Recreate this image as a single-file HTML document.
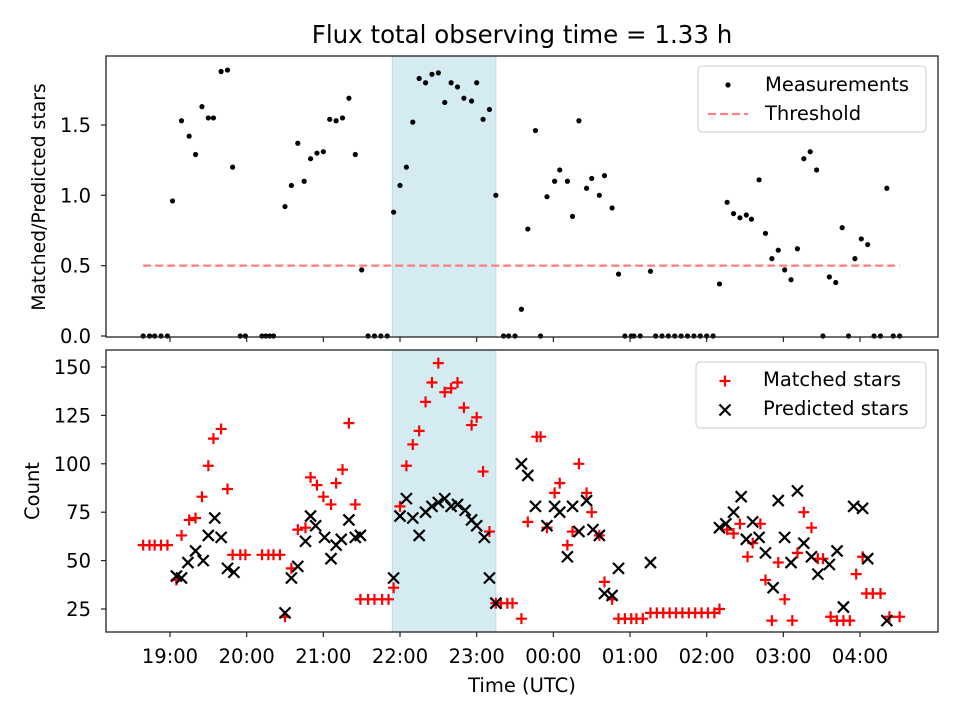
<!DOCTYPE html>
<html><head><meta charset="utf-8"><style>
body{margin:0;background:#fff}
svg{display:block;font-family:"DejaVu Sans","Liberation Sans",sans-serif}
</style></head><body>
<svg id="chart" width="960" height="720" viewBox="0 0 960 720">
<g id="gtop"></g>
<g id="gbot"></g>
<text x="522" y="43" font-size="24.5" text-anchor="middle">Flux total observing time = 1.33 h</text>
</svg>
<script>
// time in minutes after 19:00 UTC
const topTimes=[-21,-16,-12,-7,-2,2,9,15,20,25,30,34,40,45,49,55,59,72,75,78,81,90,95,100,105,110,115,120,125,130,135,140,145,150,155,160,165,170,175,180,185,190,195,200,205,210,215,220,225,230,236,240,245,250,255,261,265,270,275,280,286,290,295,301,305,311,315,320,326,330,336,340,346,351,356,361,363,368,376,380,385,390,395,400,405,410,415,420,425,430,436,441,446,451,455,461,466,471,476,481,486,491,496,501,506,511,516,521,526,531,536,541,546,551,556,561,566,571];
const topValues=[0,0,0,0,0,0.96,1.53,1.42,1.29,1.63,1.55,1.55,1.88,1.89,1.20,0,0,0,0,0,0,0.92,1.07,1.37,1.10,1.26,1.30,1.31,1.54,1.53,1.55,1.69,1.29,0.47,0,0,0,0,0.88,1.07,1.20,1.52,1.83,1.80,1.86,1.87,1.66,1.80,1.77,1.69,1.67,1.80,1.54,1.61,1.00,0,0,0,0.19,0.76,1.46,0,0.99,1.10,1.18,1.10,0.85,1.53,1.05,1.12,1.00,1.14,0.91,0.44,0,0,0,0,0.46,0,0,0,0,0,0,0,0,0,0,0.37,0.95,0.87,0.84,0.86,0.83,1.11,0.73,0.55,0.61,0.47,0.40,0.62,1.26,1.31,1.18,0,0.42,0.38,0.77,0,0.55,0.69,0.65,0,0,1.05,0,0];
const threshold=0.5;
const matchedTimes=[-21,-16,-12,-7,-2,5,9,15,20,25,30,34,40,45,49,55,59,72,77,81,86,90,95,100,106,110,115,120,126,130,135,140,145,149,155,160,166,171,175,180,185,190,195,200,205,210,215,220,225,230,236,240,245,250,255,259,264,268,275,280,287,290,295,301,305,311,315,320,326,330,336,340,346,351,356,361,365,370,376,381,386,391,396,401,406,411,416,421,426,430,436,441,446,452,456,462,466,471,476,481,487,491,496,502,507,511,517,522,527,532,537,542,545,550,556,563,571];
const matchedValues=[58,58,58,58,58,40,63,71,72,83,99,113,118,87,53,53,53,53,53,53,53,21,46,66,67,93,89,83,79,90,97,121,79,30,30,30,30,30,36,78,99,110,117,132,142,152,137,139,142,129,120,124,96,65,28,28,28,28,20,70,114,114,67,85,90,58,65,100,85,75,63,39,30,20,20,20,20,20,23,23,23,23,23,23,23,23,23,23,23,25,66,64,69,52,59,69,40,19,49,30,19,54,75,67,51,51,21,19,19,19,43,52,33,33,33,21,21];
const predTimes=[5,9,14,20,26,30,35,40,45,50,90,95,100,106,110,114,121,126,130,134,140,145,149,175,180,185,190,195,200,205,210,215,220,225,231,236,240,246,250,255,275,280,286,295,301,305,311,315,320,326,331,336,340,346,351,376,430,435,441,447,451,456,461,466,472,476,481,486,491,496,502,507,516,522,527,535,542,546,561];
const predValues=[42,41,49,55,50,63,72,62,46,44,23,41,47,60,73,68,62,51,58,61,71,62,63,41,73,82,72,63,75,78,80,82,78,79,76,71,68,62,41,28,100,94,78,68,78,75,52,78,65,81,66,63,33,32,46,49,67,69,75,83,61,70,62,54,36,81,62,49,86,59,52,43,48,55,26,78,77,51,19];
const xTickMins=[0,60,120,180,240,300,360,420,480,540];
const xTickLabels=["19:00","20:00","21:00","22:00","23:00","00:00","01:00","02:00","03:00","04:00"];
const topTicks=[0,0.5,1.0,1.5];
const topTickLabels=["0.0","0.5","1.0","1.5"];
const botTicks=[25,50,75,100,125,150];
const bandStart=174, bandEnd=255;

const L=106,R=938,T1=56,B1=337,T2=350,B2=632;
const X=m=>170+m*76.67/60;
const Y1=v=>336-v*140.7;
const Y2=c=>609-(c-25)*1.936;
const NS="http://www.w3.org/2000/svg";
const FS=19.5;
function mk(parent,tag,attrs){const e=document.createElementNS(NS,tag);for(const k in attrs)e.setAttribute(k,attrs[k]);parent.appendChild(e);return e;}
const gTop=document.getElementById('gtop'),gBot=document.getElementById('gbot');

function frame(g,T,B,name){
  let r=mk(g,'rect',{x:L,y:T,width:R-L,height:B-T,fill:'none',stroke:'#222','stroke-width':1.3});
  
  
}
function band(g,T,B,name){
  let r=mk(g,'rect',{x:X(bandStart),y:T,width:X(bandEnd)-X(bandStart),height:B-T,fill:'#d4ebf2',stroke:'#b9dde8','stroke-width':1});
  
  
}
band(gTop,T1,B1,'top');band(gBot,T2,B2,'bottom');

xTickMins.forEach((m,i)=>{
  const x=X(m);
  let t1=mk(gTop,'line',{x1:x,x2:x,y1:B1,y2:B1+5,stroke:'#222','stroke-width':1.2});
  
  
  let t2=mk(gBot,'line',{x1:x,x2:x,y1:B2,y2:B2+5,stroke:'#222','stroke-width':1.2});
  
  
  let tx=mk(gBot,'text',{x:x,y:663,'font-size':FS,'text-anchor':'middle'});
  tx.textContent=xTickLabels[i];
  
  
});
topTicks.forEach((v,i)=>{
  const y=Y1(v);
  let t=mk(gTop,'line',{x1:L-5,x2:L,y1:y,y2:y,stroke:'#222','stroke-width':1.2});
  
  
  let tx=mk(gTop,'text',{x:L-15,y:y+7,'font-size':FS,'text-anchor':'end'});
  tx.textContent=topTickLabels[i];
  
  
});
botTicks.forEach(v=>{
  const y=Y2(v);
  let t=mk(gBot,'line',{x1:L-5,x2:L,y1:y,y2:y,stroke:'#222','stroke-width':1.2});
  
  
  let tx=mk(gBot,'text',{x:L-15,y:y+7,'font-size':FS,'text-anchor':'end'});
  tx.textContent=String(v);
  
  
});

let th=mk(gTop,'line',{x1:X(-21),x2:X(571),y1:Y1(threshold),y2:Y1(threshold),stroke:'#ff7f7f','stroke-width':2.2,'stroke-dasharray':'8,4'});



topTimes.forEach((m,i)=>{
  let c=mk(gTop,'circle',{cx:X(m),cy:Y1(topValues[i]),r:2.6,fill:'#000'});
  
  
});
function plus(g,x,y,s){return mk(g,'path',{d:`M${x-s} ${y}H${x+s}M${x} ${y-s}V${y+s}`,stroke:'#f00','stroke-width':2.2,fill:'none'});}
function cross(g,x,y,s){return mk(g,'path',{d:`M${x-s} ${y-s}L${x+s} ${y+s}M${x-s} ${y+s}L${x+s} ${y-s}`,stroke:'#000','stroke-width':2.2,fill:'none'});}
matchedTimes.forEach((m,i)=>{
  let p=plus(gBot,X(m),Y2(matchedValues[i]),5.5);
  
  
});
predTimes.forEach((m,i)=>{
  let p=cross(gBot,X(m),Y2(predValues[i]),5.5);
  
  
});
frame(gTop,T1,B1,'top');frame(gBot,T2,B2,'bottom');

let yl1=mk(gTop,'text',{x:0,y:0,'font-size':18.8,'text-anchor':'middle',transform:`translate(45,197) rotate(-90)`});
yl1.textContent='Matched/Predicted stars';


let yl2=mk(gBot,'text',{x:0,y:0,'font-size':FS,'text-anchor':'middle',transform:`translate(39,${(T2+B2)/2}) rotate(-90)`});
yl2.textContent='Count';


let xl=mk(gBot,'text',{x:(L+R)/2,y:692,'font-size':FS,'text-anchor':'middle'});
xl.textContent='Time (UTC)';



let lg1=mk(gTop,'g',{});


mk(lg1,'rect',{x:698,y:66,width:228,height:66,rx:4,fill:'#fff','fill-opacity':0.8,stroke:'#ccc','stroke-width':1});
mk(lg1,'circle',{cx:728,cy:85,r:2.6,fill:'#000'});
mk(lg1,'line',{x1:708,x2:748,y1:114,y2:114,stroke:'#ff7f7f','stroke-width':2.2,'stroke-dasharray':'8,4'});
let a=mk(lg1,'text',{x:765,y:91,'font-size':FS});a.textContent='Measurements';
let b=mk(lg1,'text',{x:765,y:120,'font-size':FS});b.textContent='Threshold';
let lg2=mk(gBot,'g',{});


mk(lg2,'rect',{x:696,y:362,width:230,height:66,rx:4,fill:'#fff','fill-opacity':0.8,stroke:'#ccc','stroke-width':1});
plus(lg2,725,381,5.5);cross(lg2,725,410,5.5);
let c1=mk(lg2,'text',{x:763,y:386,'font-size':FS});c1.textContent='Matched stars';
let c2=mk(lg2,'text',{x:763,y:415,'font-size':FS});c2.textContent='Predicted stars';
</script>
</body></html>
